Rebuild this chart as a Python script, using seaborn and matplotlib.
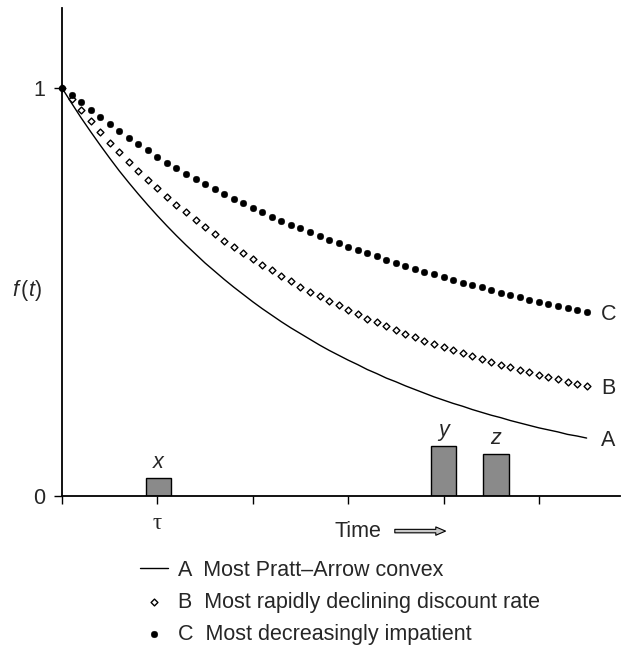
import matplotlib
matplotlib.use('Agg')
import matplotlib.pyplot as plt
import seaborn as sns
import numpy as np

# ==============================
# DATA
# ==============================
t = [round(0.1 * i, 1) for i in range(56)]

curve_a = [1.000, 0.963, 0.927, 0.893, 0.860, 0.828, 0.797, 0.768, 0.740, 0.713,
           0.687, 0.662, 0.638, 0.615, 0.593, 0.571, 0.551, 0.531, 0.512, 0.494,
           0.476, 0.459, 0.443, 0.427, 0.412, 0.398, 0.384, 0.370, 0.357, 0.345,
           0.333, 0.322, 0.310, 0.300, 0.289, 0.280, 0.270, 0.261, 0.252, 0.243,
           0.235, 0.227, 0.220, 0.212, 0.205, 0.198, 0.192, 0.185, 0.179, 0.173,
           0.167, 0.162, 0.157, 0.151, 0.147, 0.142]

curve_b = [1.000, 0.974, 0.946, 0.918, 0.892, 0.866, 0.842, 0.819, 0.796, 0.775,
           0.754, 0.734, 0.714, 0.695, 0.677, 0.659, 0.642, 0.626, 0.610, 0.595,
           0.580, 0.566, 0.553, 0.539, 0.526, 0.513, 0.501, 0.489, 0.478, 0.467,
           0.456, 0.445, 0.435, 0.426, 0.416, 0.407, 0.398, 0.390, 0.381, 0.373,
           0.365, 0.357, 0.350, 0.342, 0.335, 0.328, 0.322, 0.315, 0.309, 0.303,
           0.297, 0.292, 0.286, 0.280, 0.275, 0.269]

curve_c = [1.000, 0.983, 0.965, 0.947, 0.929, 0.912, 0.895, 0.878, 0.862, 0.847,
           0.832, 0.817, 0.803, 0.789, 0.777, 0.764, 0.752, 0.740, 0.728, 0.717,
           0.706, 0.695, 0.684, 0.674, 0.665, 0.656, 0.646, 0.637, 0.628, 0.620,
           0.611, 0.603, 0.595, 0.587, 0.579, 0.571, 0.564, 0.557, 0.550, 0.543,
           0.536, 0.529, 0.523, 0.517, 0.511, 0.504, 0.498, 0.493, 0.487, 0.481,
           0.475, 0.470, 0.465, 0.460, 0.455, 0.450]

curve_names = ['A', 'B', 'C']
legend_labels = ['A  Most Pratt\u2013Arrow convex',
                 'B  Most rapidly declining discount rate',
                 'C  Most decreasingly impatient']

bar_names = ['x', 'y', 'z']
bar_pos = [1.01, 4.0, 4.55]
bar_height = [0.045, 0.123, 0.104]

x_ticks = [0, 1, 2, 3, 4, 5]
x_tick_labels = ['', '\u03c4', '', '', '', '']
y_ticks = [0, 1]
y_tick_labels = ['0', '1']

# ==============================
# STYLE
# ==============================
sns.set_style('ticks')
plt.rcParams['font.family'] = ['Liberation Sans', 'DejaVu Sans']
plt.rcParams['mathtext.fontset'] = 'custom'
plt.rcParams['mathtext.rm'] = 'Liberation Sans'
plt.rcParams['mathtext.it'] = 'Liberation Sans:italic'
fs = 15.5

fig = plt.figure(figsize=(6.3, 6.46), dpi=100)
ax = fig.add_axes([62 / 630, 150 / 646, 558 / 630, 488 / 646])

# ==============================
# CURVES
# ==============================
sns.lineplot(x=t, y=curve_a, ax=ax, color='black', linewidth=1.0,
             label=legend_labels[0], clip_on=False)
sns.scatterplot(x=t, y=curve_b, ax=ax, marker='D', s=12, color='white',
                edgecolor='black', linewidth=1.0, label=legend_labels[1],
                clip_on=False, zorder=3)
sns.scatterplot(x=t, y=curve_c, ax=ax, marker='o', s=23, color='black',
                edgecolor='black', linewidth=0.3, label=legend_labels[2],
                clip_on=False, zorder=4)

for name, ys in zip(curve_names, [curve_a, curve_b, curve_c]):
    ax.text(t[-1] + 0.15, ys[-1] - 0.005, name, fontsize=fs, ha='left', va='center')

# ==============================
# BARS
# ==============================
ax.bar(bar_pos, bar_height, width=0.265, color='#8a8a8a', edgecolor='black',
       linewidth=1.0, zorder=2)
for name, xp, h in zip(bar_names, bar_pos, bar_height):
    ax.text(xp, h + 0.012, name, fontsize=fs, style='italic', ha='center', va='bottom')

# ==============================
# AXES
# ==============================
ax.set_xlim(0, 5.85)
ax.set_ylim(0, 1.196)
sns.despine(ax=ax)
for side in ['left', 'bottom']:
    ax.spines[side].set_linewidth(1.3)
    ax.spines[side].set_color('black')

ax.set_xticks(x_ticks)
ax.set_xticklabels(x_tick_labels, fontsize=fs + 1, family=['Liberation Serif', 'DejaVu Serif'])
ax.set_yticks(y_ticks)
ax.set_yticklabels(y_tick_labels, fontsize=fs)
ax.tick_params(axis='x', direction='out', length=6, width=1.0, pad=6, color='black')
ax.tick_params(axis='y', direction='out', length=6, width=1.0, pad=6, color='black')

ax.set_ylabel(r'$f\,(t)$', fontsize=fs, rotation=0, ha='center', va='center')
ax.yaxis.set_label_coords(-0.062, 0.422)

ax.text(3.1, -0.088, 'Time', fontsize=fs, ha='center', va='center')
ax.annotate('', xy=(4.05, -0.086), xytext=(3.46, -0.086),
            arrowprops=dict(arrowstyle='simple,head_length=0.7,head_width=0.6,tail_width=0.25',
                            fc='#c8c8c8', ec='black', lw=0.8),
            annotation_clip=False)

# ==============================
# LEGEND
# ==============================
handles, labels = ax.get_legend_handles_labels()
ax.get_legend().remove()
fig.legend(handles, labels, loc='upper left', bbox_to_anchor=(140 / 630, 1 - 560 / 646),
           frameon=False, fontsize=fs, handlelength=1.3, handletextpad=0.47,
           labelspacing=0.5, borderpad=0, borderaxespad=0, scatterpoints=1)

fig.savefig('out.png', dpi=100, facecolor='white')
